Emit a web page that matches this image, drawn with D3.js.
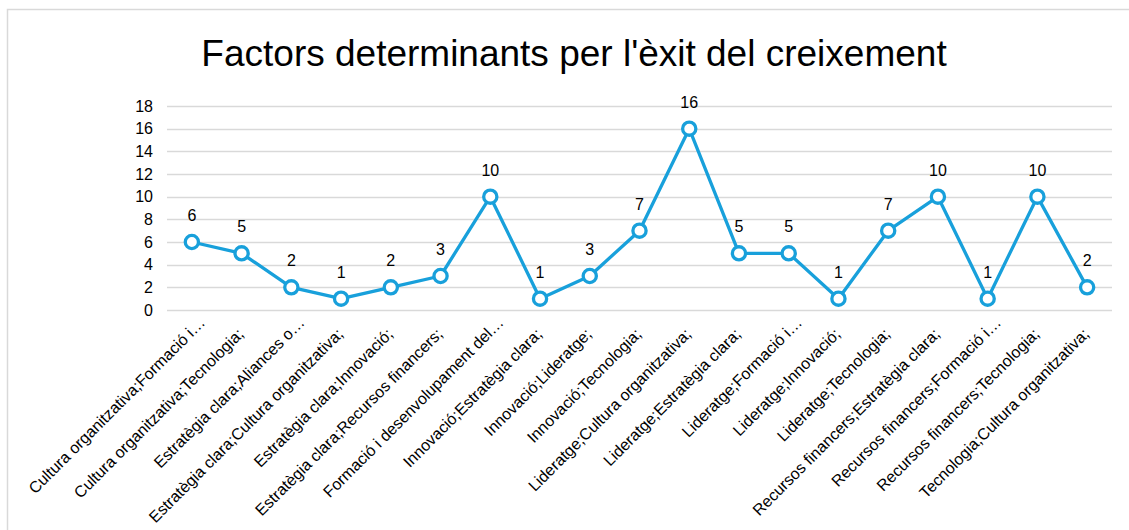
<!DOCTYPE html>
<html>
<head>
<meta charset="utf-8">
<script src="https://cdn.jsdelivr.net/npm/d3@7"></script>
<style>
  body { margin: 0; background: #fff; }
  svg text { font-family: Arial, "Liberation Sans", sans-serif; fill: #000; }
</style>
</head>
<body>
<div class="wrapper"></div>
<script>
var categories = [
    "Cultura organitzativa;Formació i…",
    "Cultura organitzativa;Tecnologia;",
    "Estratègia clara;Aliances o…",
    "Estratègia clara;Cultura organitzativa;",
    "Estratègia clara;Innovació;",
    "Estratègia clara;Recursos financers;",
    "Formació i desenvolupament del…",
    "Innovació;Estratègia clara;",
    "Innovació;Lideratge;",
    "Innovació;Tecnologia;",
    "Lideratge;Cultura organitzativa;",
    "Lideratge;Estratègia clara;",
    "Lideratge;Formació i…",
    "Lideratge;Innovació;",
    "Lideratge;Tecnologia;",
    "Recursos financers;Estratègia clara;",
    "Recursos financers;Formació i…",
    "Recursos financers;Tecnologia;",
    "Tecnologia;Cultura organitzativa;"
];
var counts = [6, 5, 2, 1, 2, 3, 10, 1, 3, 7, 16, 5, 5, 1, 7, 10, 1, 10, 2];
var yTicks = [0, 2, 4, 6, 8, 10, 12, 14, 16, 18];
var title = "Factors determinants per l'èxit del creixement";

var width = 1129,
    height = 530;

var blue = "#18a0db";

var svg = d3.select(".wrapper").append("svg")
    .attr("width", width)
    .attr("height", height);

// chart frame
svg.append("rect")
    .attr("x", 7.5)
    .attr("y", 9.5)
    .attr("width", width)
    .attr("height", height)
    .attr("fill", "#fff")
    .attr("stroke", "#d9d9d9")
    .attr("stroke-width", 1.5);

svg.append("text")
    .attr("x", 574)
    .attr("y", 66)
    .attr("text-anchor", "middle")
    .style("font-size", "37px")
    .text(title);

var x = d3.scaleBand()
    .domain(categories)
    .range([167, 1112]);

var y = d3.scaleLinear()
    .domain([0, 18])
    .range([310, 106]);

// gridlines
svg.append("g")
    .selectAll("line")
    .data(yTicks)
    .enter().append("line")
    .attr("x1", 167)
    .attr("x2", 1112)
    .attr("y1", function(d) { return Math.round(y(d)) + 0.5; })
    .attr("y2", function(d) { return Math.round(y(d)) + 0.5; })
    .attr("stroke", "#d9d9d9")
    .attr("stroke-width", 1.5);

// y axis labels
var yAxis = svg.append("g")
    .attr("transform", "translate(160,0)")
    .call(d3.axisLeft(y).tickValues(yTicks).tickSize(0).tickPadding(7));
yAxis.select(".domain").remove();
yAxis.selectAll("text")
    .style("font-size", "16px")
    .style("font-family", "Arial, 'Liberation Sans', sans-serif")
    .attr("fill", "#000");

// x axis labels, the ellipsis hangs past the tick like in the original
svg.append("g")
    .selectAll("text")
    .data(categories)
    .enter().append("text")
    .attr("transform", function(d) {
        return "translate(" + (x(d) + x.bandwidth() / 2 + 3) + ",335) rotate(-45)";
    })
    .attr("text-anchor", "end")
    .style("font-size", "16px")
    .text(function(d) { return d; })
    .each(function(d) {
        if (d.slice(-1) === "…") {
            var w = this.getSubStringLength(d.length - 1, 1);
            d3.select(this).attr("x", w);
        }
    });

var cx = function(d, i) { return x(categories[i]) + x.bandwidth() / 2; };

var line = d3.line()
    .x(function(d, i) { return cx(d, i); })
    .y(function(d) { return y(d); });

svg.append("path")
    .datum(counts)
    .attr("d", line)
    .attr("fill", "none")
    .attr("stroke", blue)
    .attr("stroke-width", 3.3)
    .attr("stroke-linejoin", "round");

svg.append("g")
    .selectAll("circle")
    .data(counts)
    .enter().append("circle")
    .attr("cx", cx)
    .attr("cy", function(d) { return y(d); })
    .attr("r", 6.6)
    .attr("fill", "#fff")
    .attr("stroke", blue)
    .attr("stroke-width", 3.3);

// data labels
svg.append("g")
    .selectAll("text")
    .data(counts)
    .enter().append("text")
    .attr("x", cx)
    .attr("y", function(d) { return y(d) - 21; })
    .attr("text-anchor", "middle")
    .style("font-size", "16px")
    .text(function(d) { return d; });
</script>
</body>
</html>
